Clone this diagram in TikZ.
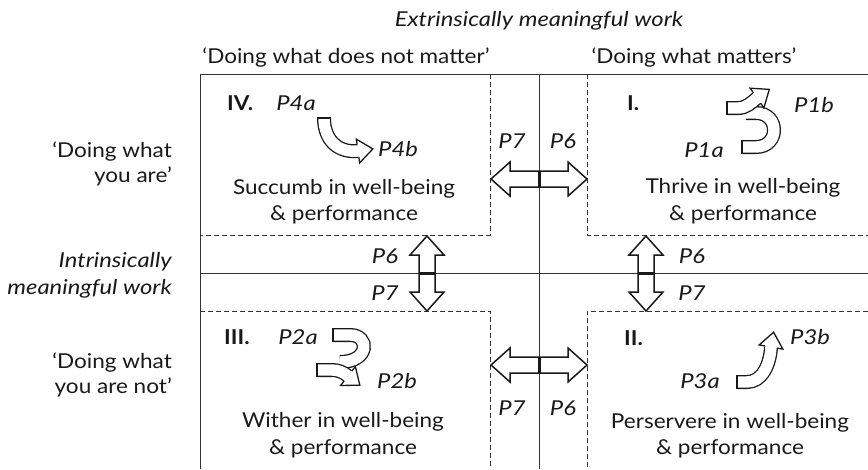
\documentclass[tikz,border=0pt]{standalone}
\usepackage{fontspec}
\setmainfont{Lato}[FakeStretch=1.1]
\newfontfamily\itfont{Lato}[FakeStretch=1.16]
\begin{document}
\begin{tikzpicture}[x=1pt,y=-1pt,
  font=\fontsize{20.5}{25}\selectfont,
  frame/.style={line width=0.8pt, black!80},
  dline/.style={line width=0.8pt, black!80, dash pattern=on 5pt off 3pt},
  lbl/.style={inner sep=0pt, anchor=base, text=black!90},
  pl/.style={lbl, font=\fontsize{20.5}{25}\selectfont\itfont\itshape},
  ql/.style={lbl, anchor=base west, font=\fontsize{20.5}{25}\selectfont\bfseries},
  band/.style={draw=black!90, line width=1.3pt, double=white, double distance=11.4pt},
  pics/ahead/.style={code={
    \fill[white] (0,-12) -- (15,0) -- (0,12) -- cycle;
    \draw[black!90, line width=1.3pt, line join=miter] (0,-6.35) -- (0,-12) -- (15,0) -- (0,12) -- (0,6.35);
  }},
  pics/acap/.style={code={\draw[black!90, line width=1.3pt] (0,-7) -- (0,7);}},
  pics/dblarrow/.style={code={
    \draw[black!90, line width=1.5pt, fill=white, line join=miter]
      (-#1,0) -- (-#1+19,-17) -- (-#1+19,-8) -- (#1-19,-8) -- (#1-19,-17) -- (#1,0)
      -- (#1-19,17) -- (#1-19,8) -- (-#1+19,8) -- (-#1+19,17) -- cycle;
    \draw[black!90, line width=3pt] (0,-8) -- (0,8);
  }}
]
\useasboundingbox (0,0) rectangle (868,469);

% frame
\draw[frame] (200,469) -- (200,74) -- (868,74);
\draw[frame] (539,74) -- (539,469);
\draw[frame] (200,273) -- (868,273);
% dashed quadrant borders
\draw[dline] (490,74) -- (490,235) -- (200,235);
\draw[dline] (587,74) -- (587,235) -- (868,235);
\draw[dline] (200,311) -- (490,311) -- (490,469);
\draw[dline] (868,311) -- (587,311) -- (587,469);

% double arrows between quadrants
\pic at (539,179) {dblarrow=48};
\pic at (539,365) {dblarrow=48};
\pic[rotate=90] at (427,273.5) {dblarrow=37.5};
\pic[rotate=90] at (646,273.5) {dblarrow=37.5};

% headings
\node[pl] (ext) at (539,26) {Extrinsically meaningful work};
\node[lbl] (hl) at (346,63) {‘Doing what does not matter’};
\node[lbl] (hr) at (694,63) {‘Doing what matters’};
\node[lbl, anchor=base east] (l1) at (172,157) {‘Doing what};
\node[lbl, anchor=base east] (l2) at (172,182) {you are’};
\node[pl, anchor=base east] (l3) at (172,267) {Intrinsically};
\node[pl, anchor=base east] (l4) at (172,294) {meaningful work};
\node[lbl, anchor=base east] (l5) at (172,368) {‘Doing what};
\node[lbl, anchor=base east] (l6) at (172,393) {you are not’};

% P6/P7 labels
\node[pl] (p7a) at (512,148) {P7};
\node[pl] (p6a) at (563,148) {P6};
\node[pl] (p7b) at (512,415) {P7};
\node[pl] (p6b) at (563,415) {P6};
\node[pl] (p6c) at (385,263) {P6};
\node[pl] (p7c) at (385,300) {P7};
\node[pl] (p6d) at (692,263) {P6};
\node[pl] (p7d) at (692,300) {P7};

% Quadrant IV
\node[ql] (q4) at (227,110) {IV.};
\node[pl] (p4a) at (296,110) {P4a};
\node[pl] (p4b) at (398,156) {P4b};
\node[lbl] (t4a) at (344,194) {Succumb in well-being};
\node[lbl] (t4b) at (344,220) {\& performance};
\draw[band] (324,118) .. controls (324,140) and (338,153) .. (358,151);
\pic[rotate=90] at (324,118) {acap};
\pic[rotate=8] at (358,151) {ahead};

% Quadrant I
\node[ql] (q1) at (627,110) {I.};
\node[pl] (p1b) at (814,112) {P1b};
\node[pl] (p1a) at (704,157) {P1a};
\node[lbl] (t1a) at (743,193) {Thrive in well-being};
\node[lbl] (t1b) at (743,220) {\& performance};
\draw[band] (742,147) -- (756,147) .. controls (780,147) and (780,113) .. (756,113) -- (746,113);
\pic at (742,147) {acap};
\draw[band] (727,108) -- (738,108) .. controls (746,108) and (751,103) .. (757,98);
\pic at (727,108) {acap};
\pic[rotate=35] at (757,98) {ahead};

% Quadrant III
\node[ql] (q3) at (224,344) {III.};
\node[pl] (p2a) at (298,344) {P2a};
\node[pl] (p2b) at (397,388) {P2b};
\node[lbl] (t3a) at (343,427) {Wither in well-being};
\node[lbl] (t3b) at (343,454) {\& performance};
\draw[band] (333,335) -- (350,335) .. controls (370,335) and (370,362) .. (340,362);
\pic at (333,335) {acap};
\draw[band] (317,370) -- (332,370) .. controls (338,370) and (343,372) .. (348,376);
\pic at (317,370) {acap};
\pic[rotate=-38] at (348,376) {ahead};

% Quadrant II
\node[ql] (q2) at (624,345) {II.};
\node[pl] (p3b) at (810,344) {P3b};
\node[pl] (p3a) at (700,388) {P3a};
\node[lbl] (t2a) at (730,428) {Perservere in well-being};
\node[lbl] (t2b) at (730,454) {\& performance};
\draw[band] (737,382) -- (747,382) .. controls (762,382) and (770,365) .. (771,347);
\pic at (737,382) {acap};
\pic[rotate=80] at (771,347) {ahead};
\end{tikzpicture}
\end{document}
